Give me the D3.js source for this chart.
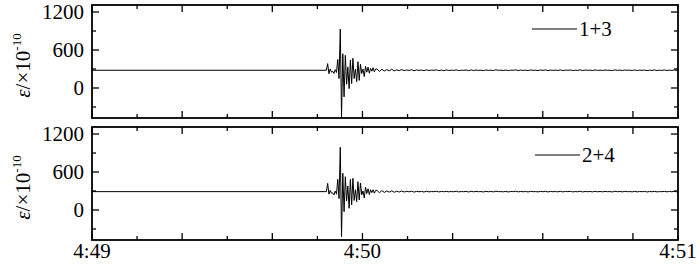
<!DOCTYPE html>
<html><head><meta charset="utf-8">
<script src="https://cdn.jsdelivr.net/npm/d3@7"></script>
<style>body{margin:0;background:#fff;overflow:hidden} text{font-family:'Liberation Serif','Times New Roman',serif}</style>
</head><body><svg id="c" width="700" height="272"></svg>
<script>
// ---- data ----
const timeTickValues = [0,10,20,30,40,50,60,70,80,90,100,110,120,130];
const timeLabels = ["4:49","4:50","4:51"];
const timeLabelPos = [0,60,130];
const yTickValues = [-300,0,300,600,900,1200];
const yLabelValues = [0,600,1200];
const seriesNames = ["1+3","2+4"];
const baselines = [280,290];
const burstStart = 52.0, burstStep = 0.28, tailStep = 0.55;
const burst13 = [280,385,225,300,250,265,230,290,245,450,150,930,-455,540,-140,515,60,330,-10,440,70,470,150,300,100,415,120,375,230,300,180,340,250,330,235,310,265,320,255,300];
const burst24 = [290,420,250,310,265,270,240,300,250,485,180,990,-422,580,-27,526,140,380,27,485,79,500,150,320,131,447,158,426,240,300,190,360,260,335,245,320,275,320,265,310];
const tail13 = [300,262,296,268,290,272,295,270,287,274,
 290,275,284,277,288,272,285,278,283,274,
 287,276,282,279,286,275,283,273,285,277,
 282,278,286,276,281,279,284,274,286,277,
 283,279,281,275,285,278,282,276,287,279,
 281,277,284,275,282,280,286,276,283,278,
 282,275,285,279,281,276,284,278,286,275,
 283,279,281,277,285,276,282,280,284,276,
 281,278,286,275,283,279,282,276,285,278,
 282,277,284,279,281,275,286,278,283,276,
 284,279,281,277,285,276,282,279,283,275,
 282,278,285,276,281,279,284,277,282,278,
 285,276,283,279];
const tail24 = [312,272,306,278,300,282,304,280,297,284,
 300,285,294,287,298,282,295,288,293,284,
 297,286,292,289,296,285,293,288,295,287,
 292,288,296,286,291,289,294,284,296,287,
 293,289,291,285,295,288,292,286,297,289,
 291,287,294,285,292,290,296,286,293,288,
 292,285,295,289,291,286,294,288,296,285,
 293,289,291,287,295,286,292,290,294,286,
 291,288,296,285,293,289,292,286,295,288,
 292,287,294,289,291,285,296,288,293,286,
 294,289,291,287,295,286,292,289,293,285,
 292,288,295,286,291,289,294,287,292,288,
 295,286,293,289];

// ---- layout ----
const svg = d3.select("#c");
const L = 92, R = 678;
const panels = [{top:5,bottom:118,burst:burst13,tail:tail13,base:baselines[0],name:seriesNames[0],leg:{x:532,y:29}},
                {top:127,bottom:240,burst:burst24,tail:tail24,base:baselines[1],name:seriesNames[1],leg:{x:535,y:155}}];
const x = d3.scaleLinear().domain([0,130]).range([L,R]);
const font = "Liberation Serif";
const bStep = i => burstStart + i*burstStep;

panels.forEach((p,pi)=>{
  const y = d3.scaleLinear().domain([-474,1311]).range([p.bottom,p.top]);
  const pts = [{t:0,v:p.base}];
  p.burst.forEach((v,i)=>pts.push({t:bStep(i),v}));
  const tailStart = bStep(p.burst.length);
  p.tail.forEach((v,i)=>{const t=tailStart+i*tailStep; if(t<=130) pts.push({t,v});});
  pts.push({t:130,v:p.base});
  const g = svg.append("g");
  g.append("clipPath").attr("id","cp"+pi).append("rect")
    .attr("x",L).attr("y",p.top).attr("width",R-L).attr("height",p.bottom-p.top);
  g.append("path").datum(pts)
    .attr("clip-path","url(#cp"+pi+")")
    .attr("fill","none").attr("stroke","#000").attr("stroke-width",1)
    .attr("d",d3.line().x(d=>x(d.t)).y(d=>y(d.v)));
  // ticks
  timeTickValues.forEach((t,k)=>{
    const len = k%2===0?7:4;
    g.append("line").attr("x1",x(t)).attr("x2",x(t)).attr("y1",p.top).attr("y2",p.top+len).attr("stroke","#000").attr("stroke-width",1.3);
    g.append("line").attr("x1",x(t)).attr("x2",x(t)).attr("y1",p.bottom).attr("y2",p.bottom-len).attr("stroke","#000").attr("stroke-width",1.3);
  });
  yTickValues.forEach(v=>{
    const len = v%600===0?7:4;
    g.append("line").attr("x1",L).attr("x2",L+len).attr("y1",y(v)).attr("y2",y(v)).attr("stroke","#000").attr("stroke-width",1.3);
    g.append("line").attr("x1",R).attr("x2",R-len).attr("y1",y(v)).attr("y2",y(v)).attr("stroke","#000").attr("stroke-width",1.3);
  });
  yLabelValues.forEach(v=>{
    g.append("text").attr("x",84).attr("y",y(v)+7).attr("text-anchor","end")
      .attr("font-family",font).attr("font-size",21).text(v);
  });
  g.append("rect").attr("x",L).attr("y",p.top).attr("width",R-L).attr("height",p.bottom-p.top)
    .attr("fill","none").attr("stroke","#000").attr("stroke-width",1.8);
  // y label
  const cy = (p.top+p.bottom)/2+4;
  const lab = g.append("text").attr("transform",`translate(30,${cy}) rotate(-90)`)
    .attr("text-anchor","middle").attr("font-family",font).attr("font-size",21);
  lab.append("tspan").attr("font-style","italic").text("ε");
  lab.append("tspan").text("/×10");
  lab.append("tspan").attr("font-size",13).attr("dy",-9).text("-10");
  // legend
  g.append("line").attr("x1",p.leg.x).attr("x2",p.leg.x+45).attr("y1",p.leg.y).attr("y2",p.leg.y).attr("stroke","#000").attr("stroke-width",1);
  g.append("text").attr("x",p.leg.x+47).attr("y",p.leg.y+7).attr("font-family",font).attr("font-size",21).text(p.name);
  if(pi===1){
    timeLabels.forEach((s,i)=>{
      g.append("text").attr("x",x(timeLabelPos[i])).attr("y",258).attr("text-anchor","middle")
        .attr("font-family",font).attr("font-size",21).text(s);
    });
  }
});
</script></body></html>
